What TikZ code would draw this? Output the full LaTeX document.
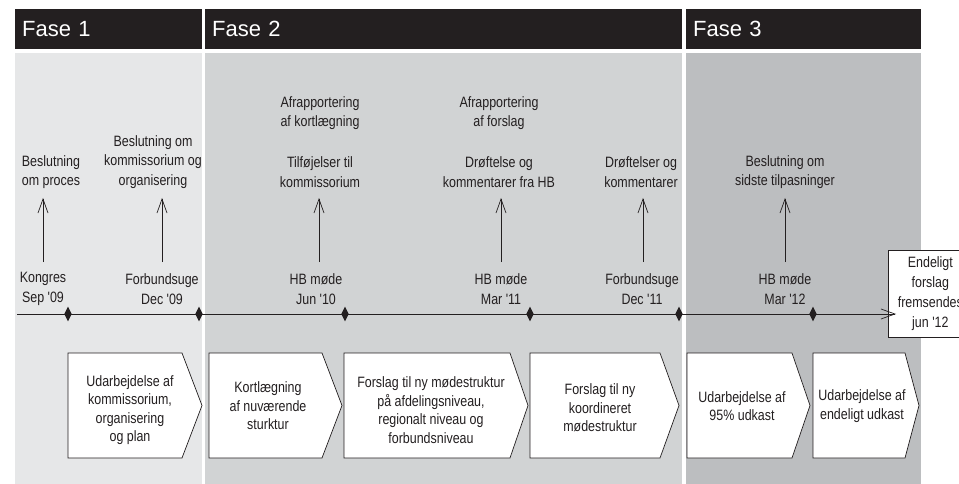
\documentclass[tikz,border=0pt]{standalone}
\usepackage{fontspec}
\setmainfont{Liberation Sans}
\newfontfamily\condfont[FakeStretch=0.83]{Liberation Sans}
\usetikzlibrary{arrows.meta,shapes.geometric}
\definecolor{hdr}{HTML}{231F20}
\definecolor{pone}{HTML}{E6E7E8}
\definecolor{ptwo}{HTML}{D1D3D4}
\definecolor{pthree}{HTML}{BCBEC0}
\definecolor{ink}{HTML}{231F20}
\tikzset{
  phasehdr/.style={anchor=north west, fill=hdr, text=white, minimum height=40pt,
    inner xsep=7pt, inner ysep=0pt, align=left, font=\fontsize{22}{26}\selectfont},
  lbl/.style={align=center, inner sep=0pt, text=ink, font=\fontsize{15}{19.5}\selectfont\condfont},
  chtxt/.style={align=center, inner sep=0pt, text=ink, font=\fontsize{15}{18.5}\selectfont\condfont},
  upar/.style={draw=ink, line width=0.7pt, -{Straight Barb[length=14pt,width=10pt,line width=0.7pt]}},
  tline/.style={draw=ink, line width=0.8pt, -{Straight Barb[length=14pt,width=10pt,line width=0.7pt]}},
  mstone/.style={diamond, fill=ink, minimum width=7.5pt, minimum height=15pt, inner sep=0pt},
  chev/.style={draw=ink, fill=white, line width=0.7pt, line join=miter},
  endbx/.style={draw=ink, fill=white, line width=0.7pt, anchor=north west, minimum width=84pt,
    minimum height=87pt, align=center, inner sep=0pt, text=ink, font=\fontsize{15}{20}\selectfont\condfont}
}
\begin{document}
\begin{tikzpicture}[x=1pt,y=-1pt]
\useasboundingbox (0,0) rectangle (959,484);
% panels
\fill[pone] (15,53) rectangle (202,484);
\fill[ptwo] (205,53) rectangle (682,484);
\fill[pthree] (686,53) rectangle (921,484);
% headers
\node[phasehdr, minimum width=187pt, text width=173pt] (f1) at (15,9) {Fase 1};
\node[phasehdr, minimum width=477pt, text width=463pt] (f2) at (205,9) {Fase 2};
\node[phasehdr, minimum width=235pt, text width=221pt] (f3) at (686,9) {Fase 3};
% end box
\node[endbx] (endbox) at (888,250) {Endeligt\\forslag\\fremsendes\\jun '12};
% timeline
\coordinate (tl0) at (17,314);
\coordinate (tlend) at (896,314);
\draw[tline] (tl0) -- (tlend);
\node[mstone] (m1) at (68,314) {};
\node[mstone] (m2) at (199,314) {};
\node[mstone] (m3) at (345,314) {};
\node[mstone] (m4) at (530,314) {};
\node[mstone] (m5) at (679,314) {};
\node[mstone] (m6) at (813,314) {};
% date labels
\node[lbl] (d1) at (43,289) {Kongres\\Sep '09};
\node[lbl] (d2) at (162,289) {Forbundsuge\\Dec '09};
\node[lbl] (d3) at (316,289) {HB møde\\Jun '10};
\node[lbl] (d4) at (501,289) {HB møde\\Mar '11};
\node[lbl] (d5) at (642,289) {Forbundsuge\\Dec '11};
\node[lbl] (d6) at (785,289) {HB møde\\Mar '12};
% upper labels
\node[lbl] (t1) at (51,172) {Beslutning\\om proces};
\node[lbl] (t2) at (153,162) {Beslutning om\\kommissorium og\\organisering};
\node[lbl] (t3a) at (320,113) {Afrapportering\\af kortlægning};
\node[lbl] (t3b) at (320,172) {Tilføjelser til\\kommissorium};
\node[lbl] (t4a) at (499,113) {Afrapportering\\af forslag};
\node[lbl] (t4b) at (499,172) {Drøftelse og\\kommentarer fra HB};
\node[lbl] (t5) at (641,172) {Drøftelser og\\kommentarer};
\node[lbl] (t6) at (785,172) {Beslutning om\\sidste tilpasninger};
% arrows
\foreach \n/\x in {1/43,2/162,3/319,4/501,5/643,6/785}{
  \coordinate (a\n b) at (\x,262);
  \coordinate (a\n t) at (\x,198);
  \draw[upar] (a\n b) -- (a\n t);
}
% chevrons
\foreach \L/\R/\T in {68/182/202, 209/322/342, 344/510/528, 530/660/679, 687/792/810, 813/905/919}{
  \draw[chev] (\L,353) -- (\R,353) -- (\T,405.5) -- (\R,458) -- (\L,458) -- cycle;
}
\node[chtxt] (c1) at (130,410) {Udarbejdelse af\\kommissorium,\\organisering\\og plan};
\node[chtxt] (c2) at (268,406) {Kortlægning\\af nuværende\\sturktur};
\node[chtxt] (c3) at (431,410) {Forslag til ny mødestruktur\\på afdelingsniveau,\\regionalt niveau og\\forbundsniveau};
\node[chtxt] (c4) at (600,408) {Forslag til ny\\koordineret\\mødestruktur};
\node[chtxt] (c5) at (742,406) {Udarbejdelse af\\95\% udkast};
\node[chtxt] (c6) at (862,406) {Udarbejdelse af\\endeligt udkast};
\end{tikzpicture}
\end{document}
